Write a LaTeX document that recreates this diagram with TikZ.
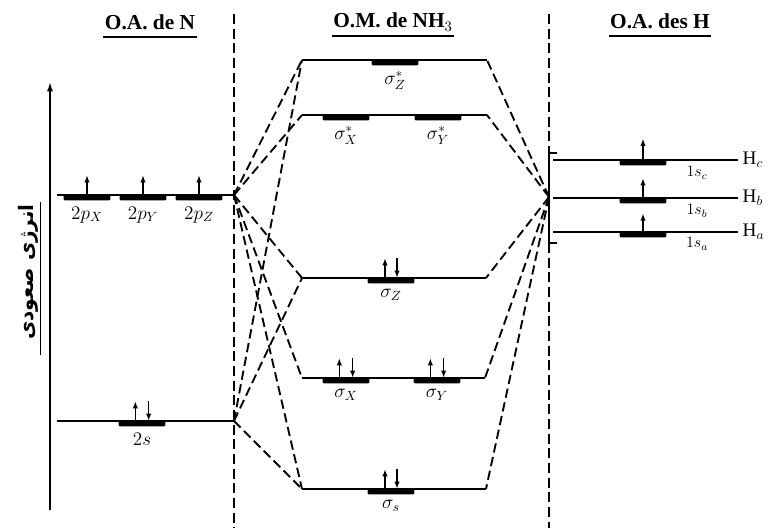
\documentclass[tikz,border=0pt]{standalone}
\usepackage{fontspec}
\setmainfont{Liberation Serif}
\newfontfamily\arabicfont[Script=Arabic]{DejaVu Sans}
\TeXXeTstate=1
\usetikzlibrary{arrows.meta, positioning}

\begin{document}
\begin{tikzpicture}[
    x = 0.75pt, y = -0.75pt,
    font = \Large,
    lvl/.style={line width = 1.5pt},
    orb/.style={
      fill, inner sep = 0pt,
      minimum width = 35pt, minimum height = 3.8pt,
      anchor = north, rounded corners = 0.8pt,
    },
    el/.style={-{Latex[length = 5.5pt, width = 4pt]}, line width = 1.1pt},
    corr/.style={dash pattern = on 7pt off 3.5pt, line width = 1.4pt},
    sep/.style={dash pattern = on 7.5pt off 3.5pt, line width = 1.5pt},
    hdr/.style={font = \fontsize{16}{18}\selectfont\bfseries, inner sep = 1pt},
    ul/.style={line width = 1.4pt},
  ]
  \useasboundingbox (0,0) rectangle (769,528);

  % headers
  \node[hdr] (hN) at (150,22) {O.A. de N};
  \node[hdr] (hM) at (393,22) {O.M. de NH$_3$};
  \node[hdr] (hH) at (660,21) {O.A. des H};
  \draw[ul] ([yshift=-6pt]hN.base west) -- ([yshift=-6pt]hN.base east);
  \draw[ul] ([yshift=-6pt]hM.base west) -- ([yshift=-6pt]hM.base east);
  \draw[ul] ([yshift=-6pt]hH.base west) -- ([yshift=-6pt]hH.base east);

  % energy axis
  \coordinate (ax0) at (50,510);
  \coordinate (ax1) at (50,82);
  \draw[-{Latex[length = 7pt, width = 4.5pt]}, line width = 1.2pt] (ax0) -- (ax1);
  \node[rotate = 90, inner sep = 1.5pt,
        font = \arabicfont\bfseries\fontsize{15}{17}\selectfont] (en) at (28,272)
    {\beginR انرژی صعودی\endR};
  \draw[line width = 1.2pt] (en.south east) -- ([yshift=-10pt]en.south west);

  % separators
  \coordinate (dl0) at (234,14);
  \coordinate (dl1) at (234,528);
  \coordinate (dr0) at (549,14);
  \coordinate (dr1) at (549,528);
  \coordinate (bT) at (549,153);
  \coordinate (bB) at (549,243);
  \draw[sep] (dl0) -- (dl1);
  \draw[sep] (dr0) -- (bT);
  \draw[sep] (bB) -- (dr1);
  \draw[line width = 1.5pt]
    ([xshift=6pt]bT) -- (bT) -- (bB) -- ([xshift=6pt]bB);

  % O.A. de N
  \coordinate (pN0) at (57,195);
  \coordinate (pN) at (234,195);
  \coordinate (sN0) at (57,421);
  \coordinate (sN) at (234,421);
  \draw[lvl] (pN0) -- (pN);
  \draw[lvl] (sN0) -- (sN);
  \node[orb] (px) at (87,195) {};
  \node[orb] (py) at (143,195) {};
  \node[orb] (pz) at (199,195) {};
  \node[orb] (s2) at (142,421) {};
  \draw[el] (px.north) -- ++(0pt,15pt);
  \draw[el] (py.north) -- ++(0pt,15pt);
  \draw[el] (pz.north) -- ++(0pt,15pt);
  \draw[el] ([xshift=-5pt]s2.north) -- ++(0pt,15pt);
  \draw[el] ([xshift=5pt,yshift=15pt]s2.north) -- ([xshift=5pt]s2.north);
  \node[below = 1pt of px] (lpx) {$2p_X$};
  \node[below = 1pt of py] (lpy) {$2p_Y$};
  \node[below = 1pt of pz] (lpz) {$2p_Z$};
  \node[below = 1pt of s2] (ls2) {$2s$};

  % O.M. de NH3
  \coordinate (zsL) at (302,60);
  \coordinate (zsR) at (487,60);
  \coordinate (xysL) at (302,115);
  \coordinate (xysR) at (487,115);
  \coordinate (zL) at (302,278);
  \coordinate (zR) at (486,278);
  \coordinate (xyL) at (302,378);
  \coordinate (xyR) at (485,378);
  \coordinate (sL) at (302,489);
  \coordinate (sR) at (486,489);
  \draw[lvl] (zsL) -- (zsR);
  \draw[lvl] (xysL) -- (xysR);
  \draw[lvl] (zL) -- (zR);
  \draw[lvl] (xyL) -- (xyR);
  \draw[lvl] (sL) -- (sR);
  \node[orb] (sZs) at (395,60) {};
  \node[orb] (sXs) at (346,115) {};
  \node[orb] (sYs) at (438,115) {};
  \node[orb] (sZ) at (391,278) {};
  \node[orb] (sX) at (346,378) {};
  \node[orb] (sY) at (437,378) {};
  \node[orb] (sS) at (391,489) {};
  \draw[el] ([xshift=-4.5pt]sZ.north) -- ++(0pt,15pt);
  \draw[el] ([xshift=4.5pt,yshift=15pt]sZ.north) -- ([xshift=4.5pt]sZ.north);
  \draw[el] ([xshift=-5pt]sX.north) -- ++(0pt,15pt);
  \draw[el] ([xshift=5pt,yshift=15pt]sX.north) -- ([xshift=5pt]sX.north);
  \draw[el] ([xshift=-5pt]sY.north) -- ++(0pt,15pt);
  \draw[el] ([xshift=5pt,yshift=15pt]sY.north) -- ([xshift=5pt]sY.north);
  \draw[el] ([xshift=-4.5pt]sS.north) -- ++(0pt,15pt);
  \draw[el] ([xshift=4.5pt,yshift=15pt]sS.north) -- ([xshift=4.5pt]sS.north);
  \node[below = 1pt of sZs] (lZs) {$\sigma^{*}_{Z}$};
  \node[below = 1pt of sXs] (lXs) {$\sigma^{*}_{X}$};
  \node[below = 1pt of sYs] (lYs) {$\sigma^{*}_{Y}$};
  \node[below = 1pt of sZ] (lZ) {$\sigma_{Z}$};
  \node[below = 1pt of sX] (lX) {$\sigma_{X}$};
  \node[below = 1pt of sY] (lY) {$\sigma_{Y}$};
  \node[below = 1pt of sS] (lS) {$\sigma_{s}$};

  % O.A. des H
  \coordinate (hJ) at (549,197);
  \coordinate (hc0) at (553,160);
  \coordinate (hc1) at (738,160);
  \coordinate (hb0) at (553,198);
  \coordinate (hb1) at (738,198);
  \coordinate (ha0) at (553,232);
  \coordinate (ha1) at (738,232);
  \draw[lvl] (hc0) -- (hc1);
  \draw[lvl] (hb0) -- (hb1);
  \draw[lvl] (ha0) -- (ha1);
  \node[orb] (hc) at (643,160) {};
  \node[orb] (hb) at (643,198) {};
  \node[orb] (ha) at (643,232) {};
  \draw[el] (hc.north) -- ++(0pt,16pt);
  \draw[el] (hb.north) -- ++(0pt,15pt);
  \draw[el] (ha.north) -- ++(0pt,14pt);
  \node[font = \large] (l1c) at (697,173) {$1s_c$};
  \node[font = \large] (l1b) at (697,211) {$1s_b$};
  \node[font = \large] (l1a) at (697,244) {$1s_a$};
  \node[right = 0pt of hc1] (Hc) {$\mathrm{H}_c$};
  \node[right = 0pt of hb1] (Hb) {$\mathrm{H}_b$};
  \node[right = 0pt of ha1] (Ha) {$\mathrm{H}_a$};

  % correlation lines
  \draw[corr] (pN) -- (zsL);
  \draw[corr] (pN) -- (xysL);
  \draw[corr] (pN) -- (zL);
  \draw[corr] (pN) -- (xyL);
  \draw[corr] (pN) -- (sL);
  \draw[corr] (sN) -- (zsL);
  \draw[corr] (sN) -- (zL);
  \draw[corr] (sN) -- (sL);
  \draw[corr] (hJ) -- (zsR);
  \draw[corr] (hJ) -- (xysR);
  \draw[corr] (hJ) -- (zR);
  \draw[corr] (hJ) -- (xyR);
  \draw[corr] (hJ) -- (sR);
\end{tikzpicture}
\end{document}
